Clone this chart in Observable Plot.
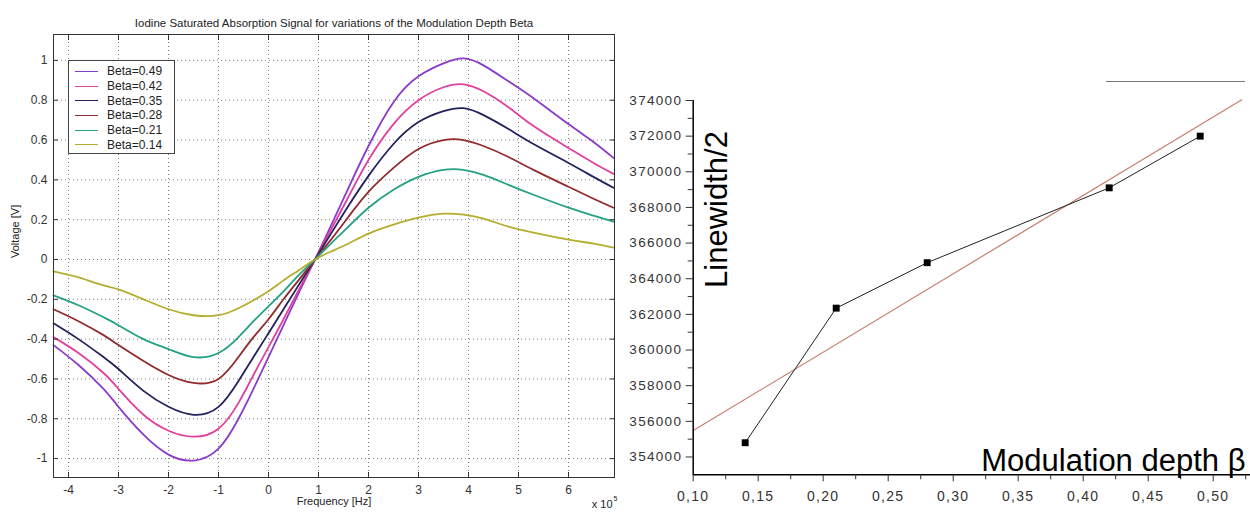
<!DOCTYPE html>
<html><head><meta charset="utf-8">
<script src="https://cdn.jsdelivr.net/npm/d3@7"></script>
<script src="https://cdn.jsdelivr.net/npm/@observablehq/plot@0.6"></script>
<style>
body{margin:0;background:#fff;}
#wrap{position:relative;width:1250px;height:513px;overflow:hidden;font-family:"Liberation Sans",Arial,sans-serif;background:#fff;}
#left{position:absolute;left:0;top:0;}
#right{position:absolute;left:620px;top:0;}
#right [aria-label$="tick label"]{letter-spacing:1.3px;}
#legend{position:absolute;left:68px;top:60px;width:107px;height:94px;border:1px solid #444;background:#fff;font-size:12px;color:#222;box-sizing:border-box;padding-top:3px;}
.row{height:14.7px;display:flex;align-items:center;}
.sw{width:23px;height:0;border-top:1.3px solid;margin-left:6px;margin-right:9px;}
#edge{position:absolute;left:1106px;top:81px;width:139px;border-top:1px solid #777;}
</style></head>
<body><div id="wrap"><div id="left"></div><div id="right"></div><div id="legend"></div><div id="edge"></div></div>
<script>
// ---------- Left chart data ----------
const freq = [-4.3,-3.8,-3.3,-3.0,-2.5,-2.0,-1.5,-1.0,-0.6,-0.3,0.0,0.3,0.6,0.93,1.25,1.6,2.0,2.5,3.0,3.5,3.9,4.3,4.8,5.3,6.0,6.5,6.9];
const beta049 = [-0.43,-0.53,-0.65,-0.74,-0.88,-0.98,-1.01,-0.95,-0.80,-0.65,-0.49,-0.33,-0.17,0.0,0.17,0.36,0.57,0.79,0.92,0.985,1.01,0.975,0.895,0.81,0.68,0.59,0.51];
const beta042 = [-0.39,-0.47,-0.57,-0.65,-0.78,-0.86,-0.89,-0.85,-0.72,-0.58,-0.44,-0.30,-0.155,0.0,0.15,0.315,0.50,0.68,0.80,0.865,0.88,0.845,0.765,0.67,0.56,0.485,0.43];
const beta035 = [-0.32,-0.40,-0.49,-0.55,-0.66,-0.74,-0.78,-0.74,-0.61,-0.49,-0.37,-0.25,-0.13,0.0,0.13,0.27,0.42,0.58,0.69,0.745,0.76,0.725,0.655,0.58,0.485,0.415,0.36];
const beta028 = [-0.25,-0.31,-0.38,-0.43,-0.51,-0.58,-0.62,-0.60,-0.49,-0.39,-0.30,-0.20,-0.105,0.0,0.10,0.215,0.34,0.46,0.555,0.60,0.60,0.57,0.515,0.45,0.365,0.305,0.26];
const beta021 = [-0.18,-0.23,-0.29,-0.33,-0.40,-0.45,-0.49,-0.47,-0.39,-0.31,-0.235,-0.16,-0.08,0.0,0.08,0.165,0.26,0.35,0.415,0.45,0.45,0.425,0.375,0.325,0.26,0.22,0.19];
const beta014 = [-0.06,-0.09,-0.13,-0.15,-0.20,-0.25,-0.28,-0.28,-0.245,-0.205,-0.16,-0.105,-0.055,0.0,0.04,0.08,0.13,0.175,0.21,0.23,0.225,0.205,0.165,0.135,0.10,0.08,0.06];
const betaLabels = ["Beta=0.49","Beta=0.42","Beta=0.35","Beta=0.28","Beta=0.21","Beta=0.14"];
const freqTicks = [-4,-3,-2,-1,0,1,2,3,4,5,6];
const voltTicks = [-1,-0.8,-0.6,-0.4,-0.2,0,0.2,0.4,0.6,0.8,1];

// ---------- Right chart data ----------
const beta = [0.14,0.21,0.28,0.42,0.49];
const halfWidth = [354800,362350,364900,369100,372000];
const fitBeta = [0.10,0.522];
const fitHalfWidth = [355480,374040];
const betaTicks = [0.10,0.15,0.20,0.25,0.30,0.35,0.40,0.45,0.50];
const betaMinorTicks = [0.125,0.175,0.225,0.275,0.325,0.375,0.425,0.475,0.525];
const hwTicks = [354000,356000,358000,360000,362000,364000,366000,368000,370000,372000,374000];
const hwMinorTicks = [355000,357000,359000,361000,363000,365000,367000,369000,371000,373000];

// styles
const seriesColors = ["#8a3cc8","#e0409e","#22225e","#922c2c","#23a283","#b5ad2e"];
const allSeries = [beta049,beta042,beta035,beta028,beta021,beta014];

const rows = [];
allSeries.forEach((s, k) => s.forEach((v, i) => rows.push({f: freq[i], v, beta: betaLabels[k]})));

const fmtV = d => String(+d.toFixed(1));
const gridStyle = {stroke: "#555", strokeOpacity: 0.75, strokeDasharray: "1,3"};

const left = Plot.plot({
  width: 620, height: 513,
  marginLeft: 53, marginRight: 6, marginTop: 34, marginBottom: 36,
  style: {fontFamily: '"Liberation Sans", Arial, sans-serif', fontSize: "12px", color: "#333", background: "#fff"},
  x: {domain: [-4.3, 6.92]},
  y: {domain: [-1.095, 1.13]},
  color: {domain: betaLabels, range: seriesColors},
  marks: [
    Plot.gridX(freqTicks, gridStyle),
    Plot.gridY(voltTicks, gridStyle),
    Plot.line(rows, {x: "f", y: "v", stroke: "beta", z: "beta", strokeWidth: 1.8, curve: "natural"}),
    Plot.frame({stroke: "#333"}),
    Plot.axisX(freqTicks, {anchor: "bottom", tickSize: -5, tickFormat: () => "", label: null}),
    Plot.axisX(freqTicks, {anchor: "top", tickSize: -5, tickFormat: () => "", label: null}),
    Plot.axisX(freqTicks, {anchor: "bottom", tickSize: 0, tickPadding: 8, tickFormat: d => String(d), label: null}),
    Plot.axisY(voltTicks, {anchor: "left", tickSize: -5, tickFormat: () => "", label: null}),
    Plot.axisY(voltTicks, {anchor: "right", tickSize: -5, tickFormat: () => "", label: null}),
    Plot.axisY(voltTicks, {anchor: "left", tickSize: 0, tickPadding: 6, tickFormat: fmtV, label: null}),
    Plot.text(["Iodine Saturated Absorption Signal for variations of the Modulation Depth Beta"], {frameAnchor: "top", dy: -16, fontSize: 11.5, fill: "#222"}),
    Plot.text(["Voltage [V]"], {frameAnchor: "left", rotate: -90, dx: -38, dy: 2, fontSize: 11, fill: "#222"}),
    Plot.text(["Frequency [Hz]"], {frameAnchor: "bottom", dy: 27, fontSize: 11, fill: "#222"}),
    Plot.text(["x 10"], {frameAnchor: "bottom-right", textAnchor: "end", dx: -2, dy: 30, fontSize: 11, fill: "#222"}),
    Plot.text(["5"], {frameAnchor: "bottom-right", textAnchor: "start", dx: -1, dy: 23, fontSize: 7, fill: "#222"})
  ]
});
document.getElementById("left").appendChild(left);

const legend = document.getElementById("legend");
betaLabels.forEach((lab, k) => {
  const r = document.createElement("div"); r.className = "row";
  const sw = document.createElement("span"); sw.className = "sw"; sw.style.borderTopColor = seriesColors[k];
  const t = document.createElement("span"); t.textContent = lab;
  r.appendChild(sw); r.appendChild(t); legend.appendChild(r);
});

const pts = beta.map((b, i) => ({b, h: halfWidth[i]}));
const fit = fitBeta.map((b, i) => ({b, h: fitHalfWidth[i]}));
const fmtB = d => d.toFixed(2).replace(".", ",");

const right = Plot.plot({
  width: 630, height: 513,
  marginLeft: 72.7, marginRight: 0, marginTop: 100, marginBottom: 38.7,
  style: {fontFamily: '"Liberation Sans", Arial, sans-serif', fontSize: "13.5px", color: "#222", background: "transparent", overflow: "visible"},
  x: {domain: [0.10, 0.5287]},
  y: {domain: [353000, 374000]},
  marks: [
    Plot.line(fit, {x: "b", y: "h", stroke: "#c98070", strokeWidth: 1.2}),
    Plot.line(pts, {x: "b", y: "h", stroke: "#222", strokeWidth: 1}),
    Plot.dot(pts, {x: "b", y: "h", symbol: "square", r: 3.9, fill: "#000"}),
    Plot.ruleX([0.10], {stroke: "#000", strokeWidth: 1.5}),
    Plot.ruleY([353000], {stroke: "#000", strokeWidth: 1.5}),
    Plot.axisX(betaTicks, {anchor: "bottom", tickSize: 7, tickPadding: 9, tickFormat: fmtB, fontSize: 14, label: null, color: "#333"}),
    Plot.axisX(betaMinorTicks, {anchor: "bottom", tickSize: 5, tickFormat: () => "", label: null, color: "#333"}),
    Plot.axisY(hwTicks, {anchor: "left", tickSize: 7, tickPadding: 4, tickFormat: d => String(d), label: null, color: "#333"}),
    Plot.axisY(hwMinorTicks, {anchor: "left", tickSize: 5, tickFormat: () => "", label: null, color: "#333"}),
    Plot.text(["Modulation depth \u03b2"], {frameAnchor: "bottom-right", textAnchor: "end", lineAnchor: "bottom", dx: -5, dy: -4, fontSize: 31, fill: "#000"}),
    Plot.text(["Linewidth/2"], {frameAnchor: "top-left", textAnchor: "middle", lineAnchor: "bottom", rotate: -90, dx: 34, dy: 109, fontSize: 31, fill: "#000"})
  ]
});
document.getElementById("right").appendChild(right);
</script>
</body></html>
